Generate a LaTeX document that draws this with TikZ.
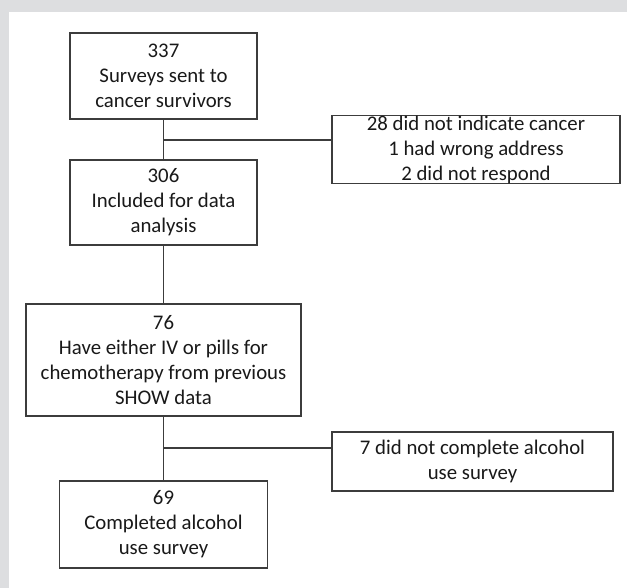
\documentclass[tikz,border=0pt]{standalone}
\usepackage{fontspec}
\setmainfont{Carlito}
\definecolor{bggray}{RGB}{221,222,224}
\definecolor{boxline}{RGB}{60,60,60}
\definecolor{txt}{RGB}{25,25,25}
\begin{document}
\begin{tikzpicture}[x=1pt,y=-1pt,
  fbox/.style={draw=boxline,line width=1.5pt,fill=white,inner sep=0pt,align=center,
    text=txt,font=\fontsize{20.8}{25}\selectfont},
  conn/.style={draw=boxline,line width=1.5pt}]
\fill[bggray] (0,0) rectangle (627,588);
\fill[white] (9,12) rectangle (627,588);
\useasboundingbox (0,0) rectangle (627,588);
\node[fbox,minimum width=187pt,minimum height=86pt] (b1) at (163.5,76) {337\\Surveys sent to\\cancer survivors};
\node[fbox,minimum width=187pt,minimum height=85pt] (b2) at (163.5,202.5) {306\\Included for data\\analysis};
\node[fbox,minimum width=275pt,minimum height=112pt] (b3) at (163.5,360) {76\\Have either IV or pills for\\chemotherapy from previous\\SHOW data};
\node[fbox,minimum width=208pt,minimum height=87pt] (b4) at (163.5,524.5) {69\\Completed alcohol\\use survey};
\node[fbox,minimum width=288pt,minimum height=65pt] (s1) at (476,149.5) {28 did not indicate cancer\\1 had wrong address\\2 did not respond};
\node[fbox,minimum width=281pt,minimum height=59pt] (s2) at (472.5,461.5) {7 did not complete alcohol\\use survey};
\coordinate (j1) at (b1.south |- 0,140);
\coordinate (j2) at (b3.south |- 0,448);
\draw[conn] (b1.south) -- (b2.north);
\draw[conn] (j1) -- (j1 -| s1.west);
\draw[conn] (b2.south) -- (b3.north);
\draw[conn] (b3.south) -- (b4.north);
\draw[conn] (j2) -- (j2 -| s2.west);
\end{tikzpicture}
\end{document}
